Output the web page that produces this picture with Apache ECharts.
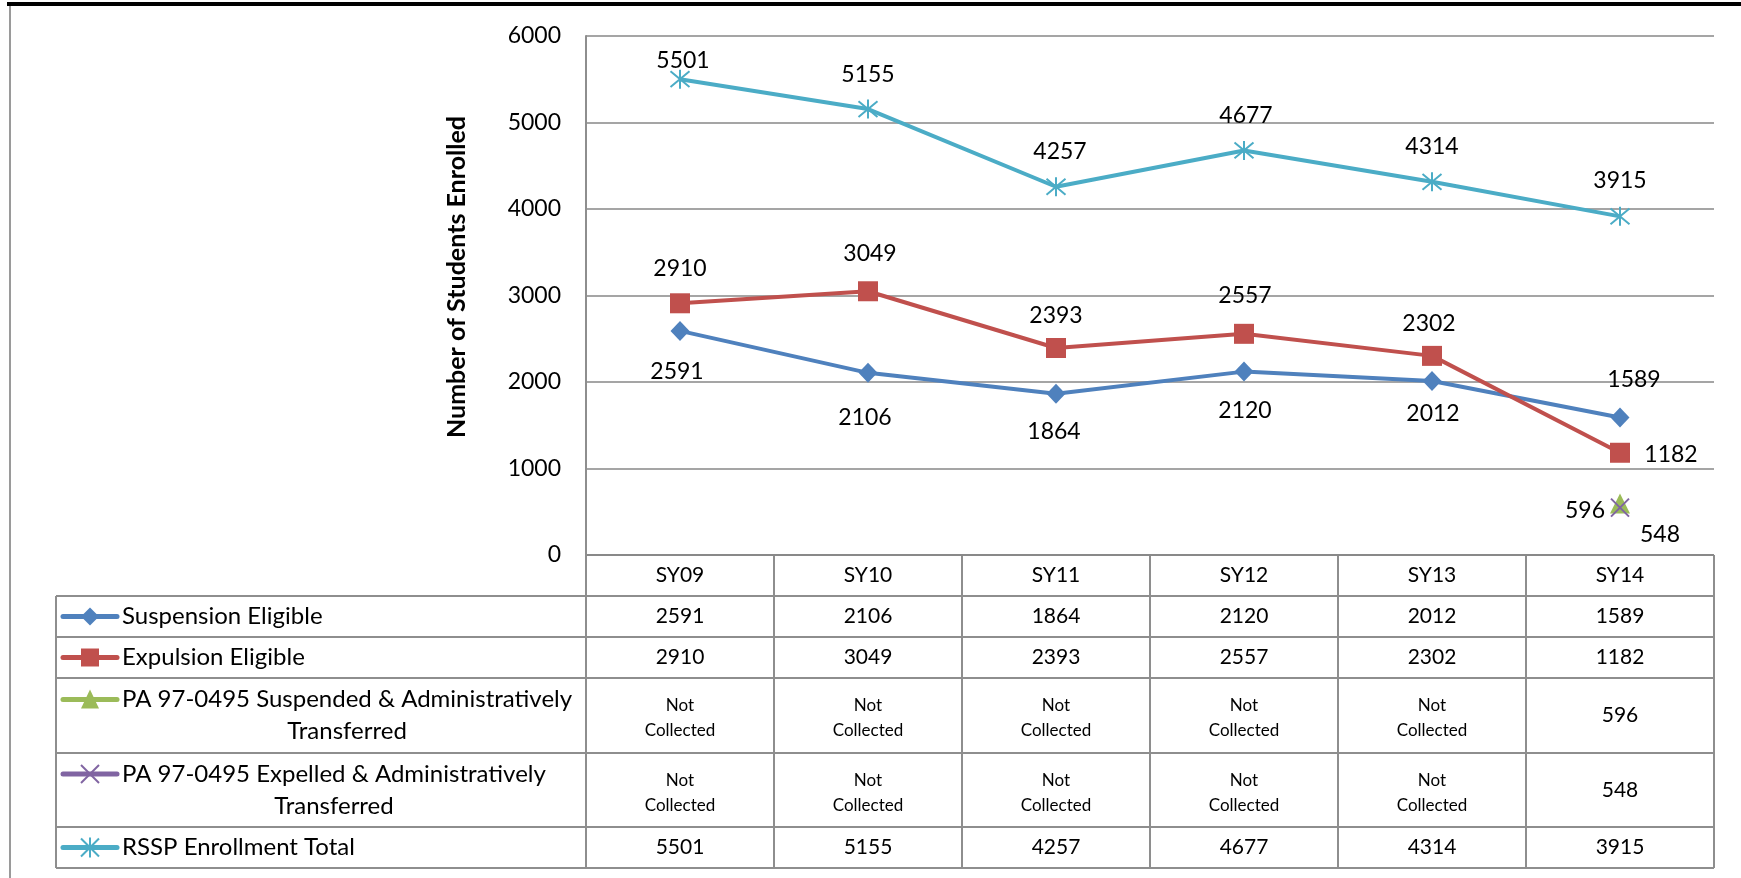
<!DOCTYPE html>
<html>
<head>
<meta charset="utf-8">
<title>RSSP Enrollment</title>
<script src="https://cdn.jsdelivr.net/npm/echarts@6/dist/echarts.min.js"></script>
<style>
  html, body { margin: 0; padding: 0; background: #fff; }
  #chart { width: 1741px; height: 878px; }
</style>
</head>
<body>
<div id="chart"></div>
<script>
const years = ['SY09', 'SY10', 'SY11', 'SY12', 'SY13', 'SY14']
const suspensionEligible = [2591, 2106, 1864, 2120, 2012, 1589]
const expulsionEligible = [2910, 3049, 2393, 2557, 2302, 1182]
const paSuspended = [null, null, null, null, null, 596]
const paExpelled = [null, null, null, null, null, 548]
const rsspTotal = [5501, 5155, 4257, 4677, 4314, 3915]
const yMin = 0
const yMax = 6000
const yStep = 1000
const notCollected = 'Not\nCollected'

const font = 'Lato'
const gridColor = '#878787'
const tableColor = '#8e8e8e'

// layout of the plot and the data table under it
const plotLeft = 586
const plotRight = 1714
const plotTop = 36
const plotBottom = 555
const colW = (plotRight - plotLeft) / years.length
const tableLeft = 56
const rowEdges = [555, 596, 637, 678, 753, 827, 868]
const nameSize = 24
const cellSize = 21

// label offsets (centre of label relative to point)
const rows = [
  {
    name: 'Suspension Eligible',
    lines: ['Suspension Eligible'],
    data: suspensionEligible,
    color: '#4F81BD',
    symbol: 'diamond',
    size: [19, 20],
    offsets: [[-3, 41], [-3, 45], [-2, 38], [1, 39], [1, 33], [14, -38]]
  },
  {
    name: 'Expulsion Eligible',
    lines: ['Expulsion Eligible'],
    data: expulsionEligible,
    color: '#C0504D',
    symbol: 'rect',
    size: 20,
    offsets: [[0, -35], [2, -38], [0, -32], [1, -38], [-3, -32], [51, 2]]
  },
  {
    name: 'PA 97-0495 Suspended & Administratively Transferred',
    lines: ['PA 97-0495 Suspended & Administratively', 'Transferred'],
    data: paSuspended,
    color: '#9BBB59',
    symbol: 'triangle',
    size: 20,
    offsets: [0, 0, 0, 0, 0, [-35, 7]]
  },
  {
    name: 'PA 97-0495 Expelled & Administratively Transferred',
    lines: ['PA 97-0495 Expelled & Administratively', 'Transferred'],
    data: paExpelled,
    color: '#8064A2',
    symbol: 'path://M0,0L10,10M10,0L0,10',
    size: 18,
    stroke: true,
    offsets: [0, 0, 0, 0, 0, [40, 27]]
  },
  {
    name: 'RSSP Enrollment Total',
    lines: ['RSSP Enrollment Total'],
    data: rsspTotal,
    color: '#4BACC6',
    symbol: 'path://M0,0L10,10M10,0L0,10M5,-1L5,11',
    size: 19,
    stroke: true,
    offsets: [[3, -19], [0, -35], [4, -35], [2, -35], [0, -35], [0, -36]]
  }
]

function measure(text, size) {
  const ctx = document.createElement('canvas').getContext('2d')
  ctx.font = size + 'px ' + font
  return ctx.measureText(text).width
}

function buildSeries() {
  return rows.map((r, ri) => ({
    name: r.name,
    type: 'line',
    data: r.data.map((v, i) =>
      v == null ? '-' : { value: v, label: { offset: r.offsets[i] } }
    ),
    color: r.color,
    symbol: r.symbol,
    symbolSize: r.size,
    showAllSymbol: true,
    z: 2 + ri,
    lineStyle: { width: 4, color: r.color },
    itemStyle: r.stroke
      ? { color: r.color, borderColor: r.color, borderWidth: 2 }
      : { color: r.color, borderWidth: 0 },
    label: {
      show: true,
      position: 'inside',
      fontFamily: font,
      fontSize: 23,
      color: '#000'
    },
    emphasis: { disabled: true }
  }))
}

function legendKey(r, cx, cy) {
  const els = [
    {
      type: 'line',
      shape: { x1: 63, y1: cy, x2: 117, y2: cy },
      style: { stroke: r.color, lineWidth: 5, lineCap: 'round' }
    }
  ]
  const h = 9
  if (r.symbol === 'diamond') {
    els.push({
      type: 'polygon',
      shape: { points: [[cx, cy - h], [cx + h, cy], [cx, cy + h], [cx - h, cy]] },
      style: { fill: r.color }
    })
  } else if (r.symbol === 'rect') {
    els.push({ type: 'rect', shape: { x: cx - h, y: cy - h, width: 2 * h, height: 2 * h }, style: { fill: r.color } })
  } else if (r.symbol === 'triangle') {
    els.push({
      type: 'polygon',
      shape: { points: [[cx, cy - h - 1], [cx + h, cy + h], [cx - h, cy + h]] },
      style: { fill: r.color }
    })
  } else {
    const lines = [[cx - h, cy - h, cx + h, cy + h], [cx + h, cy - h, cx - h, cy + h]]
    if (r.name.startsWith('RSSP')) lines.push([cx, cy - h - 1, cx, cy + h + 1])
    lines.forEach((l) =>
      els.push({
        type: 'line',
        shape: { x1: l[0], y1: l[1], x2: l[2], y2: l[3] },
        style: { stroke: r.color, lineWidth: 2 }
      })
    )
  }
  return els
}

function buildTable() {
  const els = []
  const hLine = (y, x1) =>
    els.push({ type: 'line', shape: { x1: x1, y1: y, x2: plotRight, y2: y }, style: { stroke: tableColor, lineWidth: 2 } })
  const vLine = (x, y1) =>
    els.push({ type: 'line', shape: { x1: x, y1: y1, x2: x, y2: rowEdges[6] }, style: { stroke: tableColor, lineWidth: 2 } })

  hLine(rowEdges[0], plotLeft)
  for (let i = 1; i < rowEdges.length; i++) hLine(rowEdges[i], tableLeft)
  vLine(tableLeft, rowEdges[1])
  for (let c = 0; c <= years.length; c++) vLine(plotLeft + c * colW, rowEdges[0])

  years.forEach((y, c) => {
    els.push({
      type: 'text',
      x: plotLeft + (c + 0.5) * colW,
      y: (rowEdges[0] + rowEdges[1]) / 2,
      style: { text: y, fontFamily: font, fontSize: cellSize, fill: '#000', align: 'center', verticalAlign: 'middle' }
    })
  })

  rows.forEach((r, ri) => {
    const top = rowEdges[ri + 1]
    const bottom = rowEdges[ri + 2]
    const cy = (top + bottom) / 2
    r.data.forEach((v, c) => {
      els.push({
        type: 'text',
        x: plotLeft + (c + 0.5) * colW,
        y: v == null ? cy + 3 : cy,
        style: v == null
          ? { text: notCollected, fontFamily: font, fontSize: 17, lineHeight: 25, fill: '#000', align: 'center', verticalAlign: 'middle' }
          : { text: String(v), fontFamily: font, fontSize: cellSize, fill: '#000', align: 'center', verticalAlign: 'middle' }
      })
    })

    const firstY = r.lines.length > 1 ? cy - 16 : cy
    els.push(...legendKey(r, 90, firstY))
    els.push({
      type: 'text',
      x: 122,
      y: firstY,
      style: { text: r.lines[0], fontFamily: font, fontSize: nameSize, fill: '#000', align: 'left', verticalAlign: 'middle' }
    })
    if (r.lines.length > 1) {
      const w = measure(r.lines[0], nameSize)
      els.push({
        type: 'text',
        x: 122 + w / 2,
        y: cy + 16,
        style: { text: r.lines[1], fontFamily: font, fontSize: nameSize, fill: '#000', align: 'center', verticalAlign: 'middle' }
      })
    }
  })
  return els
}

const chart = echarts.init(document.getElementById('chart'))
chart.setOption({
  animation: false,
  backgroundColor: '#fff',
  grid: {
    left: plotLeft,
    right: 1741 - plotRight,
    top: plotTop,
    bottom: 878 - plotBottom
  },
  xAxis: {
    type: 'category',
    data: years,
    boundaryGap: true,
    axisLine: { show: false },
    axisTick: { show: false },
    axisLabel: { show: false },
    splitLine: { show: false }
  },
  yAxis: {
    type: 'value',
    min: yMin,
    max: yMax,
    interval: yStep,
    axisLine: { show: true, lineStyle: { color: tableColor, width: 2 } },
    axisTick: { show: false },
    axisLabel: {
      fontFamily: font,
      fontSize: 23,
      color: '#000',
      margin: 25,
      formatter: (v) => String(v)
    },
    splitLine: { lineStyle: { color: gridColor, width: 1.5 } }
  },
  graphic: [
    { type: 'rect', shape: { x: 7, y: 2, width: 1734, height: 4 }, style: { fill: '#000' } },
    { type: 'line', shape: { x1: 10, y1: 6, x2: 10, y2: 878 }, style: { stroke: '#9a9a9a', lineWidth: 2 } },
    {
      type: 'text',
      x: 457,
      y: 277,
      rotation: Math.PI / 2,
      style: {
        text: 'Number of Students Enrolled',
        fontFamily: font,
        fontSize: 25,
        fontWeight: 'bold',
        fill: '#000',
        align: 'center',
        verticalAlign: 'middle'
      }
    },
    ...buildTable()
  ],
  series: buildSeries()
})
</script>
</body>
</html>
